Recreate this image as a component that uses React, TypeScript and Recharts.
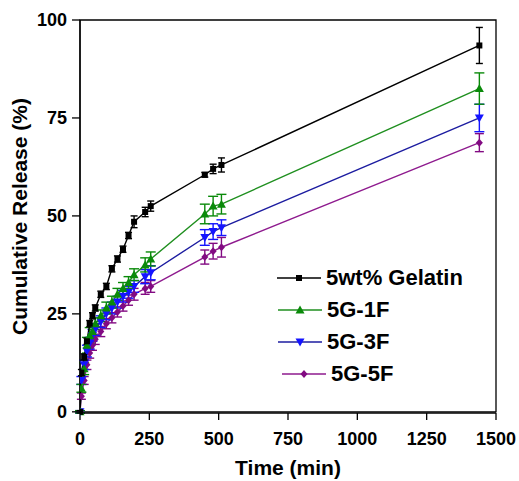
import React from 'react';
import { LineChart, Line, XAxis, YAxis, ErrorBar, ReferenceArea, Label } from 'recharts';

// sampling times (min)
const times = [0, 5, 15, 25, 35, 45, 55, 75, 95, 115, 135, 155, 175, 195, 235, 255, 450, 480, 510, 1440];

// cumulative release (%) and error (+/-)
const gelatin = [0, 10, 14, 18, 22.5, 24.5, 26.5, 30, 32, 36.5, 39, 41.5, 45, 48.5, 51, 52.5, 60.5, 62, 63, 93.5];
const gelatinErr = [0.3, 0.8, 0.8, 0.8, 0.8, 0.8, 0.8, 0.8, 0.8, 0.8, 0.8, 0.8, 0.8, 1.5, 1.2, 1.3, 0.6, 1.2, 1.8, 4.6];

const g1f = [0, 6, 11, 17, 19.5, 20.5, 22.5, 24.5, 26.5, 28, 30, 31.5, 33, 35, 37.5, 39, 50.5, 52.5, 53, 82.5];
const g1fErr = [0.3, 1, 1.5, 2, 2, 1.8, 1.5, 1.5, 1.5, 1.5, 1.5, 1.5, 1.5, 1.5, 1.8, 1.8, 2.5, 2.5, 2.5, 4];

const g3f = [0, 8, 12, 15.5, 17.5, 19.5, 21, 23, 25, 26.5, 28, 29.5, 30.5, 32, 34.5, 35.5, 44.5, 46, 47, 75];
const g3fErr = [0.3, 1, 1.2, 1.5, 1.5, 1.5, 1.5, 1.5, 1.5, 1.5, 1.5, 1.5, 1.5, 1.5, 1.8, 1.8, 2, 2, 2, 3.5];

const g5f = [0, 4, 8, 12, 15, 17, 18.5, 20.5, 22.5, 24, 25.5, 27, 28.5, 30, 31.5, 32, 39.5, 41, 42, 68.7];
const g5fErr = [0.3, 0.8, 1, 1.2, 1.3, 1.3, 1.3, 1.3, 1.3, 1.3, 1.3, 1.3, 1.3, 1.5, 1.5, 1.5, 1.8, 2, 2.5, 2.3];

const xTicks = [0, 250, 500, 750, 1000, 1250, 1500];
const yTicks = [0, 25, 50, 75, 100];

const data = times.map((t, i) => ({
    time: t,
    gelatin: gelatin[i], gelatinErr: gelatinErr[i],
    g1f: g1f[i], g1fErr: g1fErr[i],
    g3f: g3f[i], g3fErr: g3fErr[i],
    g5f: g5f[i], g5fErr: g5fErr[i],
}));

const FONT = '"Liberation Sans", Arial, Helvetica, sans-serif';

type Shape = 'square' | 'up' | 'down' | 'diamond';

const series: { key: string; name: string; line: string; mark: string; shape: Shape; cap: number; indent: number }[] = [
    { key: 'gelatin', name: '5wt% Gelatin', line: '#000000', mark: '#000000', shape: 'square', cap: 3.5, indent: 0 },
    { key: 'g1f', name: '5G-1F', line: '#1f8f1f', mark: '#0a8a0a', shape: 'up', cap: 5, indent: 1 },
    { key: 'g3f', name: '5G-3F', line: '#1c1ca0', mark: '#1414ff', shape: 'down', cap: 5, indent: 1 },
    { key: 'g5f', name: '5G-5F', line: '#8e1a8e', mark: '#820a82', shape: 'diamond', cap: 4.5, indent: 5 },
];

function Marker({ cx, cy, shape, color }: { cx: number; cy: number; shape: Shape; color: string }) {
    if (shape === 'square') return <rect x={cx - 3} y={cy - 3} width={6} height={6} fill={color} />;
    if (shape === 'up') return <polygon points={`${cx},${cy - 4.5} ${cx - 4.5},${cy + 3.5} ${cx + 4.5},${cy + 3.5}`} fill={color} />;
    if (shape === 'down') return <polygon points={`${cx},${cy + 4.5} ${cx - 4.5},${cy - 3.5} ${cx + 4.5},${cy - 3.5}`} fill={color} />;
    return <polygon points={`${cx},${cy - 4} ${cx + 3.5},${cy} ${cx},${cy + 4} ${cx - 3.5},${cy}`} fill={color} />;
}

// legend sits inside the plot, lower right
const ChartLegend = () => (
    <div style={{ position: 'absolute', left: 277, top: 262, fontFamily: FONT, fontWeight: 'bold', fontSize: 22, color: '#000' }}>
        {series.map((s) => (
            <div key={s.key} style={{ display: 'flex', alignItems: 'center', height: 32, marginLeft: s.indent }}>
                <svg width={44} height={20} style={{ overflow: 'visible' }}>
                    <line x1={0} y1={10} x2={44} y2={10} stroke={s.line} strokeWidth={1.4} />
                    <Marker cx={22} cy={10} shape={s.shape} color={s.mark} />
                </svg>
                <span style={{ marginLeft: 5, lineHeight: '22px' }}>{s.name}</span>
            </div>
        ))}
    </div>
);

export default function App() {
    const tickStyle = { fontFamily: FONT, fontWeight: 'bold' as const, fontSize: 18, fill: '#000' };
    // draw purple first so black sits on top
    const drawOrder = [...series].reverse();
    return (
        <div style={{ position: 'absolute', left: 0, top: 0, width: 519, height: 481, background: '#fff' }}>
            <LineChart width={519} height={481} data={data} margin={{ top: 20, right: 23, bottom: 0, left: 0 }}>
                <ReferenceArea x1={0} x2={1500} y1={0} y2={100} fill="none" stroke="#000" strokeWidth={1.3} />
                <XAxis
                    dataKey="time"
                    type="number"
                    domain={[0, 1500]}
                    ticks={xTicks}
                    tick={tickStyle}
                    tickSize={7}
                    tickMargin={12}
                    height={68}
                    stroke="#000"
                    strokeWidth={1.3}
                    allowDataOverflow
                >
                    <Label value="Time (min)" position="insideBottom" offset={6}
                        style={{ fontFamily: FONT, fontWeight: 'bold', fontSize: 21, fill: '#000' }} />
                </XAxis>
                <YAxis
                    type="number"
                    domain={[0, 100]}
                    ticks={yTicks}
                    tick={tickStyle}
                    tickSize={8}
                    tickMargin={5}
                    width={80}
                    stroke="#000"
                    strokeWidth={1.3}
                >
                    <Label value="Cumulative Release (%)" angle={-90} position="insideLeft" offset={20}
                        style={{ fontFamily: FONT, fontWeight: 'bold', fontSize: 21, fill: '#000', textAnchor: 'middle' }} />
                </YAxis>
                {drawOrder.map((s) => (
                    <Line
                        key={s.key}
                        dataKey={s.key}
                        name={s.name}
                        type="linear"
                        stroke={s.line}
                        strokeWidth={1.4}
                        isAnimationActive={false}
                        dot={(p: any) => <Marker key={`${s.key}-${p.index}`} cx={p.cx} cy={p.cy} shape={s.shape} color={s.mark} />}
                        activeDot={false}
                    >
                        <ErrorBar dataKey={`${s.key}Err`} width={s.cap} stroke={s.mark} strokeWidth={1.4} direction="y" />
                    </Line>
                ))}
            </LineChart>
            <ChartLegend />
        </div>
    );
}
